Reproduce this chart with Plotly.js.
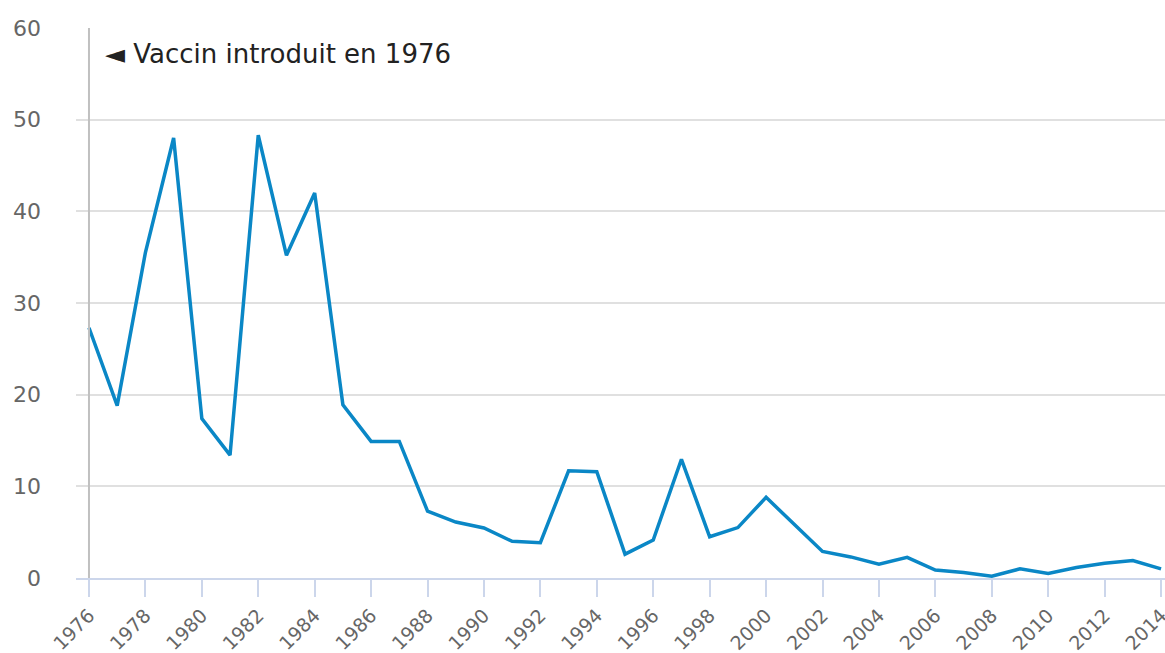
<!DOCTYPE html>
<html><head><meta charset="utf-8">
<script src="https://cdn.plot.ly/plotly-3.0.1.min.js"></script>
<style>html,body{margin:0;padding:0;background:#fff}#chart{width:1165px;height:653px}</style>
</head><body><div id="chart"></div>
<script>
const years = [1976,1977,1978,1979,1980,1981,1982,1983,1984,1985,1986,1987,1988,1989,1990,1991,1992,1993,1994,1995,1996,1997,1998,1999,2000,2001,2002,2003,2004,2005,2006,2007,2008,2009,2010,2011,2012,2013,2014];
const cases = [27.3,18.8,35.5,48.0,17.4,13.4,48.3,35.2,42.0,18.9,14.9,14.9,7.3,6.1,5.45,4.0,3.85,11.7,11.6,2.6,4.15,12.95,4.5,5.5,8.8,5.9,2.9,2.3,1.5,2.25,0.87,0.6,0.2,1.0,0.5,1.15,1.6,1.9,1.0];
const xTickYears = [1976,1978,1980,1982,1984,1986,1988,1990,1992,1994,1996,1998,2000,2002,2004,2006,2008,2010,2012,2014];
const yTicks = [0,10,20,30,40,50,60];
const annotationText = "◄ Vaccin introduit en 1976";

const trace = {x: years, y: cases, type: 'scatter', mode: 'lines',
  line: {color: '#0a87c6', width: 3.5}, hoverinfo: 'x+y'};

const layout = {
  width: 1165, height: 653,
  margin: {l: 76, r: 0, t: 28, b: 75},
  paper_bgcolor: '#fff', plot_bgcolor: '#fff',
  showlegend: false,
  font: {family: '"DejaVu Sans", sans-serif', color: '#666'},
  xaxis: {range: [1975.54, 2014.14], tickmode: 'array', tickvals: xTickYears,
    ticktext: xTickYears.map(String), tickangle: -45, ticklabeloverflow: 'allow',
    showgrid: false, zeroline: false, showline: true, linecolor: '#ccd6eb', linewidth: 2,
    ticks: 'outside', ticklen: 17, tickcolor: '#ccd6eb', tickwidth: 2,
    tickfont: {size: 19, color: '#666'}},
  yaxis: {range: [0, 60], tickmode: 'array', tickvals: yTicks, showgrid: true, gridcolor: '#e0e0e0', gridwidth: 2,
    zeroline: false, showline: false, ticks: '', ticklabelstandoff: 34,
    tickfont: {size: 22, color: '#666'}},
  shapes: [{type: 'line', xref: 'x', yref: 'paper', x0: 1976, x1: 1976, y0: 0, y1: 1,
    line: {color: '#c0c0c0', width: 2}}],
  annotations: [{xref: 'paper', yref: 'paper', x: 0.025, y: 0.953, xanchor: 'left', yanchor: 'middle',
    text: annotationText, showarrow: false, font: {size: 26, color: '#222'}}]
};
Plotly.newPlot('chart', [trace], layout, {displayModeBar: false});
</script></body></html>
